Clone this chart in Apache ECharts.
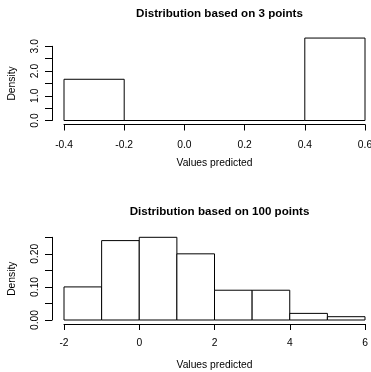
<!DOCTYPE html>
<html>
<head>
<meta charset="utf-8">
<script src="https://cdn.jsdelivr.net/npm/echarts@6/dist/echarts.min.js"></script>
<style>
html,body{margin:0;padding:0;background:#fff;}
#c{width:371px;height:372px;}
</style>
</head>
<body>
<div id="c"></div>
<script>
// Top histogram: 3 points
const title3 = 'Distribution based on 3 points';
const breaks3 = [-0.4, -0.2, 0.0, 0.2, 0.4, 0.6];
const density3 = [1.6667, 0, 0, 0, 3.3333];
// Bottom histogram: 100 points
const title100 = 'Distribution based on 100 points';
const breaks100 = [-2, -1, 0, 1, 2, 3, 4, 5, 6];
const density100 = [0.10, 0.24, 0.25, 0.20, 0.09, 0.09, 0.02, 0.01];
const xName = 'Values predicted';
const yName = 'Density';

function toBins(breaks, dens) {
  return dens.map((d, i) => [breaks[i], breaks[i + 1], d]);
}

const FONT = "'Liberation Sans', Arial, Helvetica, sans-serif";
const chart = echarts.init(document.getElementById('c'), null, {renderer: 'canvas'});

function renderRect(params, api) {
  const a = api.coord([api.value(0), 0]);
  const b = api.coord([api.value(1), api.value(2)]);
  return {
    type: 'rect',
    shape: {x: a[0], y: b[1], width: b[0] - a[0], height: a[1] - b[1]},
    style: {fill: '#fff', stroke: '#000', lineWidth: 1}
  };
}

function xAxisCfg(gi, min, max, interval, digits, nameGap, margin) {
  return {
    gridIndex: gi, type: 'value', min: min, max: max, interval: interval,
    offset: 4,
    name: xName, nameLocation: 'middle', nameGap: nameGap,
    nameTextStyle: {fontFamily: FONT, fontSize: 10.3, color: '#000'},
    axisLine: {show: true, onZero: false, lineStyle: {color: '#000', width: 1}},
    axisTick: {show: true, length: 6, lineStyle: {color: '#000'}},
    axisLabel: {fontFamily: FONT, fontSize: 10.3, color: '#000', margin: margin,
      formatter: v => v.toFixed(digits), showMinLabel: true, showMaxLabel: true},
    splitLine: {show: false}
  };
}

function yAxisCfg(gi, min, max, interval, labelEvery, digits) {
  return {
    gridIndex: gi, type: 'value', min: min, max: max, interval: interval,
    offset: 12,
    name: yName, nameLocation: 'middle', nameGap: 35, nameRotate: 90,
    nameTextStyle: {fontFamily: FONT, fontSize: 10.3, color: '#000'},
    axisLine: {show: true, onZero: false, lineStyle: {color: '#000', width: 1}},
    axisTick: {show: true, length: 7, lineStyle: {color: '#000'}},
    axisLabel: {fontFamily: FONT, fontSize: 10.3, color: '#000', margin: 12, rotate: 90,
      showMinLabel: true, showMaxLabel: true,
      formatter: v => {
        const k = Math.round(v / labelEvery * 1000) / 1000;
        return Math.abs(k - Math.round(k)) < 1e-6 ? v.toFixed(digits) : '';
      }},
    splitLine: {show: false}
  };
}

chart.setOption({
  animation: false,
  backgroundColor: '#fff',
  title: [
    {text: title3, left: 214.5, top: 3, textAlign: 'center',
     textStyle: {fontFamily: FONT, fontSize: 11.6, fontWeight: 'bold', color: '#000'}},
    {text: title100, left: 214.5, top: 201, textAlign: 'center',
     textStyle: {fontFamily: FONT, fontSize: 11.6, fontWeight: 'bold', color: '#000'}}
  ],
  grid: [
    {left: 64, right: 6, top: 46.3, bottom: 251.5, containLabel: false, outerBoundsMode: 'none'},
    {left: 64, right: 6, top: 237.3, bottom: 52, containLabel: false, outerBoundsMode: 'none'}
  ],
  xAxis: [
    xAxisCfg(0, -0.4, 0.6, 0.2, 1, 34, 16),
    xAxisCfg(1, -2, 6, 2, 0, 36, 14)
  ],
  yAxis: [
    yAxisCfg(0, 0, 3, 0.5, 1, 1),
    yAxisCfg(1, 0, 0.25, 0.05, 0.1, 2)
  ],
  series: [
    {type: 'custom', xAxisIndex: 0, yAxisIndex: 0, clip: false,
     data: toBins(breaks3, density3), encode: {x: [0, 1], y: 2},
     renderItem: renderRect},
    {type: 'custom', xAxisIndex: 1, yAxisIndex: 1, clip: false,
     data: toBins(breaks100, density100), encode: {x: [0, 1], y: 2},
     renderItem: renderRect}
  ]
});
</script>
</body>
</html>
